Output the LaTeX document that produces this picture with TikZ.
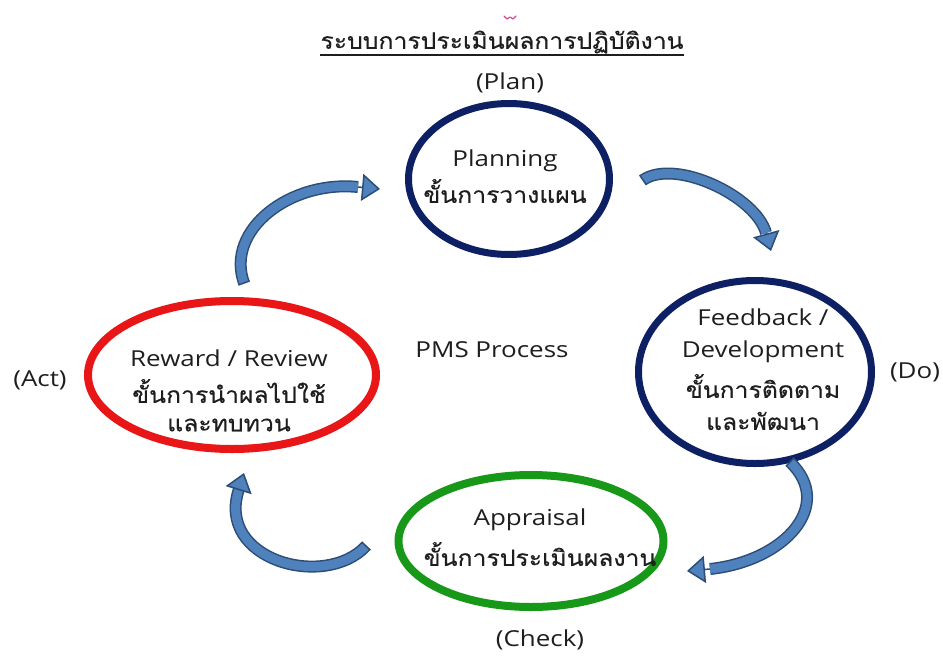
\documentclass[tikz,border=0pt]{standalone}
\usepackage{fontspec}
\setmainfont{Open Sans}[FakeStretch=1.18]
\newfontfamily\thaifont[Script=Thai,FakeStretch=1.1,FakeBold=0.4]{Loma}
\usetikzlibrary{arrows.meta,shapes.geometric,calc}
\definecolor{navy}{RGB}{14,32,100}
\definecolor{rred}{RGB}{232,22,22}
\definecolor{ggreen}{RGB}{24,152,24}
\definecolor{arrowfill}{RGB}{79,129,189}
\definecolor{arrowline}{RGB}{44,77,117}
\definecolor{txt}{RGB}{30,30,30}
\definecolor{pinkmark}{RGB}{215,70,140}
\tikzset{
  x=1pt, y=-1pt,
  ring/.style={ellipse, line width=7pt, inner sep=0pt},
  lat/.style={font=\fontsize{22}{26}\selectfont, text=txt, inner sep=0pt, anchor=center},
  thai/.style={font=\thaifont\fontsize{22.5}{26}\selectfont, text=txt, inner sep=0pt, anchor=center},
  shaft/.style={draw=arrowline, line width=1.5pt, double=arrowfill, double distance=9pt},
  tailcap/.style={draw=arrowline, line width=1.5pt},
  head/.style={draw=arrowline, line width=1.5pt, -{Triangle[length=18pt,width=27pt,fill=arrowfill,line width=1.5pt]}}
}
\begin{document}
\begin{tikzpicture}
\fill[white] (0,0) rectangle (943,656);
\useasboundingbox (0,0) rectangle (943,656);

% title
\draw[pinkmark, line width=1.2pt, line cap=round, line join=round] (504,16) -- (507,19) -- (510,17) -- (513,19) -- (516,16);
\node[thai] (title) at (502,42) {ระบบการประเมินผลการปฏิบัติงาน};
\draw[txt, line width=1.3pt] (title.south west |- 0,55) coordinate (ul1) -- (title.south east |- 0,55) coordinate (ul2);

% rings
\node[ring, draw=navy, minimum width=201pt, minimum height=151pt] (plan) at (509,179) {};
\node[ring, draw=navy, minimum width=233pt, minimum height=183pt] (feed) at (755,372) {};
\node[ring, draw=ggreen, line width=8pt, minimum width=265pt, minimum height=132pt] (appr) at (531,541) {};
\node[ring, draw=rred, line width=8pt, minimum width=288pt, minimum height=148pt] (rew) at (232,375) {};

% labels outside
\node[lat] (lplan) at (510,83) {(Plan)};
\node[lat] (ldo) at (915,372) {(Do)};
\node[lat] (lact) at (40,380) {(Act)};
\node[lat] (lcheck) at (540,640) {(Check)};
\node[lat] (pms) at (492,350) {PMS Process};

% texts inside
\node[lat] (p1) at (505,161) {Planning};
\node[thai] (p2) at (505,191) {ขั้นการวางแผน};

\node[lat] (f1) at (763,317) {Feedback /};
\node[lat] (f2) at (763,352) {Development};
\node[thai] (f3) at (763,386) {ขั้นการติดตาม};
\node[thai] (f4) at (763,421) {และพัฒนา};

\node[lat] (r1) at (229,358) {Reward / Review};
\node[thai] (r2) at (229,391) {ขั้นการนำผลไปใช้};
\node[thai] (r3) at (229,425) {และทบทวน};

\node[lat] (a1) at (530,520) {Appraisal};
\node[thai] (a2) at (540,554) {ขั้นการประเมินผลงาน};

% curved arrows
\coordinate (A1) at (643,180); \coordinate (C1) at (675,158); \coordinate (S1) at (766,233); \coordinate (T1) at (771,251);
\draw[shaft] (A1) .. controls (C1) and (756,196) .. (S1);
\draw[tailcap] ($(A1)!6pt!90:(C1)$) -- ($(A1)!6pt!-90:(C1)$);
\draw[head] (S1) -- (T1);

\coordinate (A2) at (790,462); \coordinate (C2) at (835,505); \coordinate (S2) at (710,569); \coordinate (T2) at (687,571);
\draw[shaft] (A2) .. controls (C2) and (785,561) .. (S2);
\draw[tailcap] ($(A2)!6pt!90:(C2)$) -- ($(A2)!6pt!-90:(C2)$);
\draw[head] (S2) -- (T2);

\coordinate (A3) at (366,546); \coordinate (C3) at (325,590); \coordinate (S3) at (239,489); \coordinate (T3) at (244,473);
\draw[shaft] (A3) .. controls (C3) and (215,560) .. (S3);
\draw[tailcap] ($(A3)!6pt!90:(C3)$) -- ($(A3)!6pt!-90:(C3)$);
\draw[head] (S3) -- (T3);

\coordinate (A4) at (244,283); \coordinate (C4) at (225,230); \coordinate (S4) at (358,187); \coordinate (T4) at (380,189);
\draw[shaft] (A4) .. controls (C4) and (290,180) .. (S4);
\draw[tailcap] ($(A4)!6pt!90:(C4)$) -- ($(A4)!6pt!-90:(C4)$);
\draw[head] (S4) -- (T4);
\end{tikzpicture}
\end{document}
